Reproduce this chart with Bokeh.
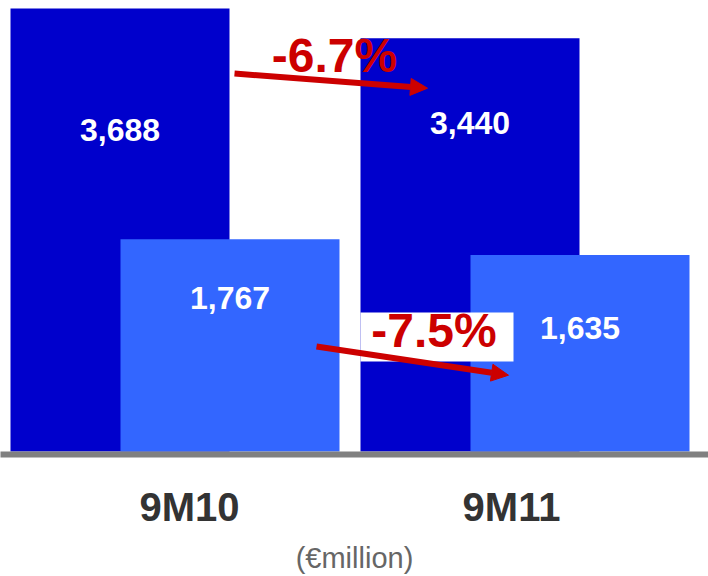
from bokeh.plotting import figure
from bokeh.models import (Range1d, LinearAxis, FixedTicker, ColumnDataSource,
                          Arrow, NormalHead)
from bokeh.transform import dodge
from bokeh.core.properties import value
from bokeh.embed import file_html
from bokeh.resources import INLINE

# ---- data ----
periods = ["9M10", "9M11"]
series_dark = [3688, 3440]
series_light = [1767, 1635]
labels_dark = ["3,688", "3,440"]
labels_light = ["1,767", "1,635"]
changes = ["-6.7%", "-7.5%"]
unit_label = "(€million)"

# ---- layout helpers (pixels -> data) ----
PX_X = 350.0            # px per category unit
PX_Y = 443.0 / 3688.0   # px per value unit
x_start = 0.5 - 174.5 / PX_X
y_start = -3.0 / PX_Y
y_end = 3688 + 8.0 / PX_Y

pos = [i + 0.5 for i in range(len(periods))]
OFF = 55.0 / PX_X
BAR_W = 219.0 / PX_X

src = ColumnDataSource(dict(
    pos=pos, dark=series_dark, light=series_light,
    ldark=labels_dark, llight=labels_light,
    drop_dark=[121.5, 84.5], drop_light=[59.0, 72.5],
))

p = figure(width=708, height=576, output_backend="svg", toolbar_location=None,
           x_range=Range1d(x_start, x_start + 708.0 / PX_X),
           y_range=Range1d(y_start, y_end),
           x_axis_type=None, y_axis_type=None,
           min_border=0, min_border_bottom=122)
p.outline_line_color = None
p.grid.visible = False
p.background_fill_color = "white"
p.border_fill_color = "white"

DARK = "#0000CC"
LIGHT = "#3366FF"
RED = "#CC0000"
FONT = value("Liberation Sans")

p.vbar(x=dodge("pos", -OFF, range=p.x_range), top="dark", bottom=0, width=BAR_W,
       source=src, fill_color=DARK, line_color=None)
p.vbar(x=dodge("pos", OFF, range=p.x_range), top="light", bottom=0, width=BAR_W,
       source=src, fill_color=LIGHT, line_color=None)

p.text(x=dodge("pos", -OFF, range=p.x_range), y="dark", text="ldark", source=src,
       y_offset="drop_dark", text_color="white", text_font=FONT,
       text_font_style="bold", text_font_size="32px",
       text_align="center", text_baseline="middle")
p.text(x=dodge("pos", OFF, range=p.x_range), y="light", text="llight", source=src,
       y_offset="drop_light", text_color="white", text_font=FONT,
       text_font_style="bold", text_font_size="32px",
       text_align="center", text_baseline="middle")

def px2x(px):
    return 0.5 + (px - 174.5) / PX_X

def py2y(py):
    return (451.0 - py) / PX_Y

# white box behind the lower change label
p.quad(left=[px2x(360)], right=[px2x(513)], top=[py2y(312)], bottom=[py2y(361)],
       fill_color="white", line_color=None)

chg = ColumnDataSource(dict(x=[px2x(334), px2x(433.5)], y=[py2y(54.5), py2y(330)],
                            t=changes))
p.text(x="x", y="y", text="t", source=chg, text_color=RED, text_font=FONT,
       text_font_style="bold", text_font_size="48px",
       text_align="center", text_baseline="middle")

for (sx, sy, ex, ey) in [(234, 73, 431, 88), (316, 346, 512, 375)]:
    p.add_layout(Arrow(end=NormalHead(size=17, fill_color=RED, line_color=RED,
                                      line_width=1),
                       x_start=px2x(sx), y_start=py2y(sy),
                       x_end=px2x(ex - 4), y_end=py2y(ey - 0.3),
                       line_color=RED, line_width=6))

label_pos = [px2x(189), px2x(511)]
ax = LinearAxis(ticker=FixedTicker(ticks=label_pos),
                major_label_overrides={t: s for t, s in zip(label_pos, periods)})
ax.axis_line_width = 6
ax.axis_line_color = "#808080"
ax.major_tick_line_color = None
ax.minor_tick_line_color = None
ax.major_label_text_font = "Liberation Sans"
ax.major_label_text_font_size = "40px"
ax.major_label_text_font_style = "bold"
ax.major_label_text_color = "#333333"
ax.major_label_standoff = 24
ax.axis_label = unit_label
ax.axis_label_text_font = "Liberation Sans"
ax.axis_label_text_font_size = "29px"
ax.axis_label_text_font_style = "normal"
ax.axis_label_text_color = "#666666"
ax.axis_label_standoff = 10
p.add_layout(ax, "below")

open("out.html", "w").write(file_html(p, INLINE))
